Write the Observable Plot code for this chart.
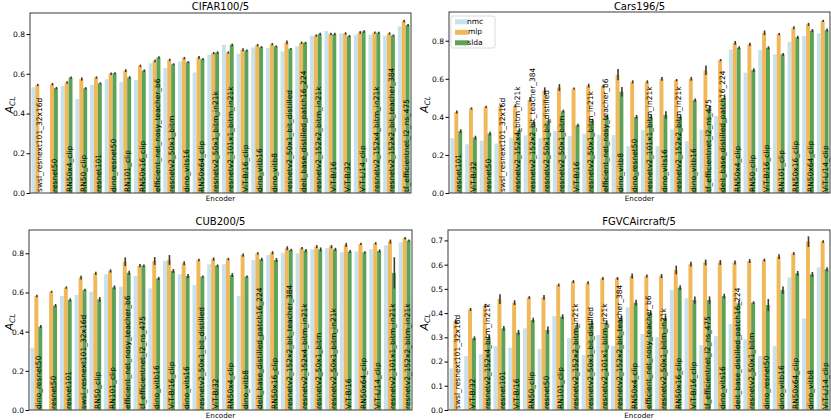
<!DOCTYPE html>
<html>
<head>
<meta charset="utf-8">
<script src="https://cdn.jsdelivr.net/npm/d3@7"></script>
<script src="https://cdn.jsdelivr.net/npm/@observablehq/plot@0.6"></script>
<style>
  html, body { margin: 0; padding: 0; background: white; }
  #wrap { position: relative; width: 831px; height: 420px; overflow: hidden; background: white; font-family: "DejaVu Sans", sans-serif; }
  .panel { position: absolute; }
</style>
</head>
<body>
<div id="wrap"></div>
<script>
// ---------------- data ----------------
const series = ["nmc", "mlp", "slda"];
const seriesColors = ["#c8e1eb", "#f1b85a", "#5ca357"];

// CIFAR100/5
const cifarEncoders = ["swsl_resnext101_32x16d","resnet50","RN50x4_clip","RN50_clip","resnet101","dino_resnet50","RN101_clip","RN50x16_clip","efficient_net_nosy_teacher_b6","resnetv2_50x1_bitm","dino_vits16","RN50x64_clip","resnetv2_50x1_bitm_in21k","resnetv2_101x1_bitm_in21k","ViT-B/16_clip","dino_vitb16","dino_vitb8","resnetv2_50x1_bit_distilled","deit_base_distilled_patch16_224","resnetv2_152x2_bitm_in21k","ViT-B/16","ViT-B/32","ViT-L/14_clip","resnetv2_152x4_bitm_in21k","resnetv2_152x2_bit_teacher_384","tf_efficientnet_l2_ns_475"];
const cifarNmc  = [0.532,null,0.539,0.473,0.544,0.573,0.559,0.569,0.653,0.628,0.662,0.606,0.696,0.746,0.701,0.733,0.729,0.712,0.738,0.792,0.815,0.803,0.797,0.797,0.792,0.839];
const cifarMlp  = [0.544,0.548,0.556,0.574,0.581,0.600,0.616,0.640,0.665,0.670,0.679,0.682,0.704,0.707,0.721,0.744,0.749,0.758,0.756,0.792,0.800,0.803,0.808,0.807,0.803,0.866];
const cifarSlda = [null,0.528,0.581,0.527,0.552,0.603,0.581,0.616,0.682,0.648,0.659,0.674,0.707,0.746,0.717,0.734,0.738,0.726,0.756,0.800,0.800,0.790,0.813,0.807,0.793,0.845];
const cifarMlpErr  = [0.006,0.006,0.006,0.008,0.006,0.006,0.007,0.006,0.007,0.006,0.006,0.007,0.006,0.006,0.008,0.006,0.006,0.009,0.006,0.006,0.006,0.006,0.007,0.006,0.006,0.006];
const cifarSldaErr = [null,0.006,0.006,0.006,0.005,0.005,0.007,0.006,0.006,0.005,0.005,0.006,0.006,0.006,0.005,0.005,0.005,0.004,0.005,0.006,0.006,0.005,0.006,0.005,0.005,0.006];

// Cars196/5
const carsEncoders = ["resnet101","ViT-B/32","resnet50","swsl_resnext101_32x16d","resnetv2_152x4_bitm_in21k","resnetv2_152x2_bit_teacher_384","resnetv2_50x1_bit_distilled","resnetv2_50x1_bitm","ViT-B/16","resnetv2_50x1_bitm_in21k","efficient_net_nosy_teacher_b6","dino_vitb8","dino_resnet50","resnetv2_101x1_bitm_in21k","dino_vits16","resnetv2_152x2_bitm_in21k","dino_vitb16","tf_efficientnet_l2_ns_475","deit_base_distilled_patch16_224","RN50x4_clip","RN50_clip","ViT-B/16_clip","RN101_clip","RN50x16_clip","RN50x64_clip","ViT-L/14_clip"];
const carsNmc  = [0.289,0.256,0.275,0.260,0.291,0.303,0.290,0.325,0.300,0.311,0.306,0.304,0.246,0.330,0.246,0.335,0.272,0.333,0.405,0.754,0.632,0.751,0.728,0.795,0.825,0.839];
const carsMlp  = [0.426,0.444,0.453,0.456,0.458,0.490,0.535,0.554,0.549,0.564,0.562,0.622,0.584,0.584,0.600,0.593,0.600,0.645,0.698,0.789,0.781,0.842,0.835,0.868,0.886,0.904];
const carsSlda = [0.325,0.291,0.312,null,0.330,0.370,0.380,0.430,0.356,0.380,0.400,0.532,0.400,0.400,0.410,0.400,0.488,0.450,0.500,0.763,0.646,0.763,0.728,0.818,0.853,0.856];
const carsMlpErr  = [0.008,0.006,0.006,0.006,0.008,0.012,0.020,0.018,0.005,0.010,0.008,0.030,0.008,0.008,0.010,0.006,0.010,0.025,0.006,0.010,0.008,0.012,0.006,0.008,0.008,0.006];
const carsSldaErr = [0.010,0.010,0.010,null,0.010,0.010,0.010,0.008,0.008,0.010,0.010,0.025,0.010,0.010,0.020,0.010,0.008,0.010,0.010,0.008,0.010,0.008,0.008,0.008,0.008,0.008];

// CUB200/5
const cubEncoders = ["dino_resnet50","resnet50","resnet101","swsl_resnext101_32x16d","RN50_clip","RN101_clip","efficient_net_nosy_teacher_b6","tf_efficientnet_l2_ns_475","dino_vitb16","ViT-B/16_clip","dino_vits16","resnetv2_50x1_bit_distilled","ViT-B/32","RN50x4_clip","dino_vitb8","deit_base_distilled_patch16_224","RN50x16_clip","resnetv2_152x2_bit_teacher_384","resnetv2_152x4_bitm_in21k","resnetv2_50x1_bitm","resnetv2_50x1_bitm_in21k","ViT-B/16","RN50x64_clip","ViT-L/14_clip","resnetv2_101x1_bitm_in21k","resnetv2_152x2_bitm_in21k"];
const cubNmc  = [0.318,null,0.582,0.587,0.604,0.693,0.630,0.684,0.621,0.761,0.693,0.638,0.744,0.744,0.582,0.766,0.791,0.803,0.800,0.820,0.826,0.805,0.809,0.822,0.841,0.856];
const cubMlp  = [0.582,0.604,0.625,0.676,0.698,0.710,0.757,0.737,0.761,0.766,0.749,0.766,0.771,0.771,0.791,0.800,0.803,0.826,0.826,0.834,0.834,0.843,0.848,0.851,0.860,0.877];
const cubSlda = [0.426,0.533,0.562,0.613,0.565,0.626,0.701,0.737,0.672,0.710,0.684,0.681,0.737,0.689,0.681,0.769,0.766,0.817,0.814,0.820,0.820,0.809,0.805,0.812,0.700,0.865];
const cubMlpErr  = [0.006,0.005,0.006,0.010,0.008,0.008,0.022,0.008,0.020,0.025,0.010,0.006,0.008,0.006,0.008,0.006,0.008,0.010,0.006,0.008,0.008,0.010,0.006,0.006,0.010,0.006];
const cubSldaErr = [0.008,0.008,0.008,0.006,0.012,0.010,0.010,0.006,0.008,0.010,0.010,0.006,0.006,0.010,0.006,0.008,0.010,0.006,0.008,0.010,0.008,0.008,0.006,0.008,0.080,0.006];

// FGVCAircraft/5
const fgvcEncoders = ["swsl_resnext101_32x16d","ViT-B/32","resnetv2_152x4_bitm_in21k","resnet101","ViT-B/16","RN50_clip","resnet50","RN101_clip","resnetv2_152x2_bitm_in21k","resnetv2_50x1_bit_distilled","resnetv2_101x1_bitm_in21k","resnetv2_152x2_bit_teacher_384","RN50x4_clip","efficient_net_nosy_teacher_b6","resnetv2_50x1_bitm_in21k","RN50x16_clip","ViT-B/16_clip","tf_efficientnet_l2_ns_475","dino_vits16","deit_base_distilled_patch16_224","resnetv2_50x1_bitm","dino_resnet50","dino_vitb16","RN50x64_clip","dino_vitb8","ViT-L/14_clip"];
const fgvcNmc  = [0.172,0.223,0.231,0.264,0.257,0.337,0.252,0.388,0.296,0.227,0.310,0.265,0.424,0.314,0.301,0.495,0.461,0.268,0.305,0.355,0.292,0.223,0.264,0.547,0.378,0.589];
const fgvcMlp  = [0.365,0.415,0.430,0.458,0.443,0.464,0.465,0.516,0.530,0.525,0.543,0.543,0.553,0.553,0.553,0.578,0.602,0.609,0.609,0.609,0.615,0.619,0.633,0.646,0.695,0.695];
const fgvcSlda = [null,0.296,0.300,0.337,0.320,0.371,0.330,0.385,0.350,0.360,0.360,0.380,0.443,0.400,0.380,0.505,0.454,0.454,0.470,0.440,0.443,0.433,0.495,0.564,0.560,0.581];
const fgvcMlpErr  = [0.010,0.006,0.008,0.020,0.010,0.006,0.010,0.006,0.006,0.006,0.006,0.006,0.010,0.006,0.008,0.018,0.010,0.012,0.010,0.008,0.008,0.006,0.010,0.006,0.022,0.006];
const fgvcSldaErr = [null,0.008,0.010,0.010,0.010,0.010,0.015,0.010,0.010,0.010,0.010,0.010,0.012,0.010,0.010,0.010,0.015,0.015,0.010,0.010,0.006,0.025,0.015,0.010,0.010,0.008];

const yTicks08 = [0, 0.2, 0.4, 0.6, 0.8];
const yTicks07 = [0, 0.1, 0.2, 0.3, 0.4, 0.5, 0.6, 0.7];

// ---------------- drawing ----------------
const FONT = "DejaVu Sans";

function panel(cfg) {
  const n = cfg.encoders.length;
  const vals = {nmc: cfg.nmc, mlp: cfg.mlp, slda: cfg.slda};
  const errs = {nmc: null, mlp: cfg.mlpErr, slda: cfg.sldaErr};
  const fw = cfg.width - cfg.ml - cfg.mr;
  const fh = cfg.height - cfg.mt - cfg.mb;
  const bw = 0.8 * fw / n;      // band width of one encoder group
  const sub = bw / 3;           // width of one hue bar

  const barMarks = [];
  const errMarks = [];
  series.forEach((s, k) => {
    const rows = cfg.encoders.map((e, i) => ({enc: e, value: vals[s][i], err: errs[s] ? errs[s][i] : null}))
      .filter(d => d.value != null);
    barMarks.push(Plot.barY(rows, {x: "enc", y: "value", fill: seriesColors[k],
      insetLeft: k * sub, insetRight: (2 - k) * sub}));
    const er = rows.filter(d => d.err != null);
    if (er.length) errMarks.push(Plot.ruleX(er, {x: "enc", y1: d => d.value - d.err, y2: d => d.value + d.err,
      dx: (k - 1) * sub, stroke: "#3a3a3a", strokeWidth: 1.6}));
  });

  const svg = Plot.plot({
    width: cfg.width,
    height: cfg.height,
    marginLeft: cfg.ml, marginRight: cfg.mr, marginTop: cfg.mt, marginBottom: cfg.mb,
    style: {fontFamily: FONT, fontSize: "7.5px", color: "black", background: "white", overflow: "visible"},
    x: {type: "band", domain: cfg.encoders, paddingInner: 0.2, paddingOuter: 0.1, round: false, axis: null},
    y: {domain: [0, cfg.ymax], ticks: cfg.yticks, tickFormat: d => d.toFixed(1), tickSize: 3.5, tickPadding: 2, label: null},
    marks: [
      ...barMarks,
      ...errMarks,
      Plot.text(cfg.encoders, {x: d => d, text: d => d, frameAnchor: "bottom", rotate: -90, textAnchor: "start",
        lineAnchor: "middle", dx: 2.2, dy: -1.5, fontSize: 7.5, fill: "black"})
    ]
  });
  const s = d3.select(svg);
  s.append("rect").attr("x", cfg.ml).attr("y", cfg.mt).attr("width", fw).attr("height", fh)
    .attr("fill", "none").attr("stroke", "#262626").attr("stroke-width", 0.9);
  s.append("text").attr("x", cfg.ml + fw / 2).attr("y", cfg.titleY)
    .attr("text-anchor", "middle").attr("dominant-baseline", "middle")
    .attr("font-size", 10).attr("font-family", FONT).attr("fill", "black").text(cfg.title);
  s.append("text").attr("x", cfg.ml + fw / 2).attr("y", cfg.height - cfg.mb + 6.5)
    .attr("text-anchor", "middle").attr("dominant-baseline", "middle")
    .attr("font-size", 7.2).attr("font-family", FONT).attr("fill", "black").text("Encoder");
  const yl = s.append("text")
    .attr("transform", `translate(12.5,${cfg.mt + fh / 2 + 2}) rotate(-90)`)
    .attr("text-anchor", "middle").attr("font-family", FONT).attr("fill", "black").attr("font-style", "italic");
  yl.append("tspan").attr("font-size", 11).text("A");
  yl.append("tspan").attr("font-size", 7.5).attr("dy", 2.5).text("CL");
  if (cfg.legend) {
    const lg = s.append("g").attr("font-family", FONT).attr("font-size", 7.5);
    lg.append("rect").attr("x", 36).attr("y", 16).attr("width", 44).attr("height", 32).attr("rx", 2)
      .attr("fill", "white").attr("fill-opacity", 0.85).attr("stroke", "#d0d0d0").attr("stroke-width", 0.8);
    series.forEach((name, i) => {
      const cy = 21.8 + i * 10.5;
      lg.append("rect").attr("x", 40).attr("y", cy - 2.5).attr("width", 13.5).attr("height", 5).attr("fill", seriesColors[i]);
      lg.append("text").attr("x", 60).attr("y", cy).attr("dominant-baseline", "middle").attr("fill", "black").text(name);
    });
  }
  const div = document.createElement("div");
  div.className = "panel";
  div.style.left = cfg.left + "px";
  div.style.top = cfg.top + "px";
  div.appendChild(svg);
  document.getElementById("wrap").appendChild(div);
}

panel({title: "CIFAR100/5", encoders: cifarEncoders, nmc: cifarNmc, mlp: cifarMlp, slda: cifarSlda,
  mlpErr: cifarMlpErr, sldaErr: cifarSldaErr, ymax: 0.906, yticks: yTicks08,
  left: 0, top: 0, width: 415, height: 210, ml: 30, mr: 4, mt: 13, mb: 17, titleY: 7});
panel({title: "Cars196/5", encoders: carsEncoders, nmc: carsNmc, mlp: carsMlp, slda: carsSlda,
  mlpErr: carsMlpErr, sldaErr: carsSldaErr, ymax: 0.951, yticks: yTicks08, legend: true,
  left: 415, top: 0, width: 416, height: 210, ml: 34, mr: 1, mt: 12, mb: 17, titleY: 7});
panel({title: "CUB200/5", encoders: cubEncoders, nmc: cubNmc, mlp: cubMlp, slda: cubSlda,
  mlpErr: cubMlpErr, sldaErr: cubSldaErr, ymax: 0.919, yticks: yTicks08,
  left: 0, top: 210, width: 415, height: 210, ml: 29, mr: 3, mt: 20, mb: 10, titleY: 12});
panel({title: "FGVCAircraft/5", encoders: fgvcEncoders, nmc: fgvcNmc, mlp: fgvcMlp, slda: fgvcSlda,
  mlpErr: fgvcMlpErr, sldaErr: fgvcSldaErr, ymax: 0.743, yticks: yTicks07,
  left: 415, top: 210, width: 416, height: 210, ml: 33, mr: 1, mt: 20, mb: 10, titleY: 12});
</script>
</body>
</html>
